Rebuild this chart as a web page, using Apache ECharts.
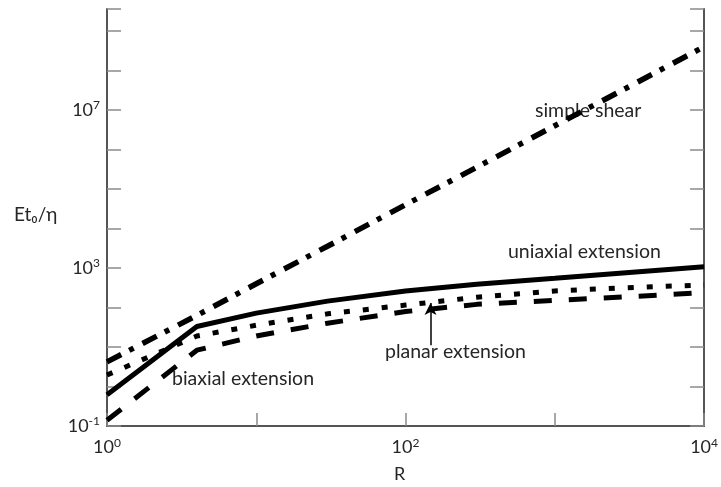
<!DOCTYPE html>
<html>
<head>
<meta charset="utf-8">
<script src="https://cdn.jsdelivr.net/npm/echarts@6/dist/echarts.min.js"></script>
<style>
html,body{margin:0;padding:0;background:#fff;}
#c{width:721px;height:487px;}
</style>
</head>
<body>
<div id="c"></div>
<script>
// Data (R on a log axis, Et0/eta on a log axis)
const R = [1, 4, 10, 30, 100, 300, 1000, 3000, 10000];
const simpleShear = [4.2, 63, 400, 3550, 40000, 355000, 4000000, 35500000, 400000000];
const uniaxial = [0.62, 33, 72, 145, 263, 389, 550, 760, 1070];
const planar = [1.95, 19, 35.5, 69, 115, 182, 263, 316, 372];
const biaxial = [0.14, 8.3, 19, 40, 79, 120, 151, 186, 240];

const xLabelExponents = [0, 2, 4];
const yLabelExponents = [-1, 3, 7];
const seriesNames = ['simple shear', 'uniaxial extension', 'planar extension', 'biaxial extension'];
const planarArrow = [[147, 11], [147, 129]];

const FONT = 'Lato';
const TXT = '#262626';
const ANN = '19.5px ' + FONT;

function pairs(ys) { return R.map((r, i) => [r, ys[i]]); }
function expLabel(v, list) {
  const e = Math.round(Math.log10(v));
  if (list.indexOf(e) < 0) return '';
  return '{b|10}{s|' + (e < 0 ? '-' + (-e) : e) + '}';
}
const rich = {
  b: { fontFamily: FONT, fontSize: 18, color: TXT },
  s: { fontFamily: FONT, fontSize: 12, color: TXT, verticalAlign: 'top', padding: [0, 0, 9, 0] }
};

const chart = echarts.init(document.getElementById('c'), null, { renderer: 'canvas' });
const yBase = {
  type: 'log', logBase: 10, min: 0.1, max: 3.6e9, interval: 1,
  splitLine: { show: false },
  axisLine: { show: true, lineStyle: { color: '#555', width: 2 } },
  axisTick: { show: true, inside: true, length: 14, lineStyle: { color: '#8a8a8a', width: 1.5 } }
};
chart.setOption({
  animation: false,
  backgroundColor: '#fff',
  grid: { left: 107, right: 13, top: 9, bottom: 61, containLabel: false },
  xAxis: {
    type: 'log', logBase: 10, min: 1, max: 10000, interval: 1,
    splitLine: { show: false },
    axisLine: { show: true, lineStyle: { color: '#555', width: 2 } },
    axisTick: { show: true, inside: true, length: 13, lineStyle: { color: '#8a8a8a', width: 1.5 } },
    axisLabel: { margin: 11, formatter: v => expLabel(v, xLabelExponents), rich: rich, showMinLabel: true, showMaxLabel: true }
  },
  yAxis: [
    Object.assign({}, yBase, {
      position: 'left',
      axisLabel: { margin: 7, formatter: v => expLabel(v, yLabelExponents), rich: rich, showMinLabel: true }
    }),
    Object.assign({}, yBase, {
      position: 'right',
      axisLabel: { show: false }
    })
  ],
  series: [
    {
      name: seriesNames[0], type: 'line', data: pairs(simpleShear), showSymbol: false, symbol: 'none',
      lineStyle: { color: '#000', width: 5.5, type: [16, 9, 5, 10], cap: 'butt' }
    },
    {
      name: seriesNames[1], type: 'line', data: pairs(uniaxial), showSymbol: false, symbol: 'none',
      lineStyle: { color: '#000', width: 5, type: 'solid' }
    },
    {
      name: seriesNames[2], type: 'line', data: pairs(planar), showSymbol: false, symbol: 'none',
      lineStyle: { color: '#000', width: 5, type: [6, 13], cap: 'butt' },
      markLine: {
        silent: true, symbol: ['none', 'arrow'], symbolSize: [9, 12],
        label: { show: false },
        lineStyle: { color: '#000', width: 1.5, type: 'solid' },
        data: [[{ coord: planarArrow[0] }, { coord: planarArrow[1] }]]
      }
    },
    {
      name: seriesNames[3], type: 'line', data: pairs(biaxial), showSymbol: false, symbol: 'none',
      lineStyle: { color: '#000', width: 5, type: [18, 17], cap: 'butt' }
    }
  ],
  graphic: [
    { type: 'text', left: 535, top: 101, style: { text: seriesNames[0], font: ANN, fill: TXT } },
    { type: 'text', left: 508, top: 242, style: { text: seriesNames[1], font: ANN, fill: TXT } },
    { type: 'text', left: 385, top: 342, style: { text: seriesNames[2], font: ANN, fill: TXT } },
    { type: 'text', left: 172, top: 369, style: { text: seriesNames[3], font: ANN, fill: TXT } },
    { type: 'text', left: 394, top: 465, style: { text: 'R', font: '18px ' + FONT, fill: TXT } },
    { type: 'text', left: 14, top: 205, style: { text: 'Et₀/η', font: '19px ' + FONT, fill: TXT } }
  ]
});
</script>
</body>
</html>
